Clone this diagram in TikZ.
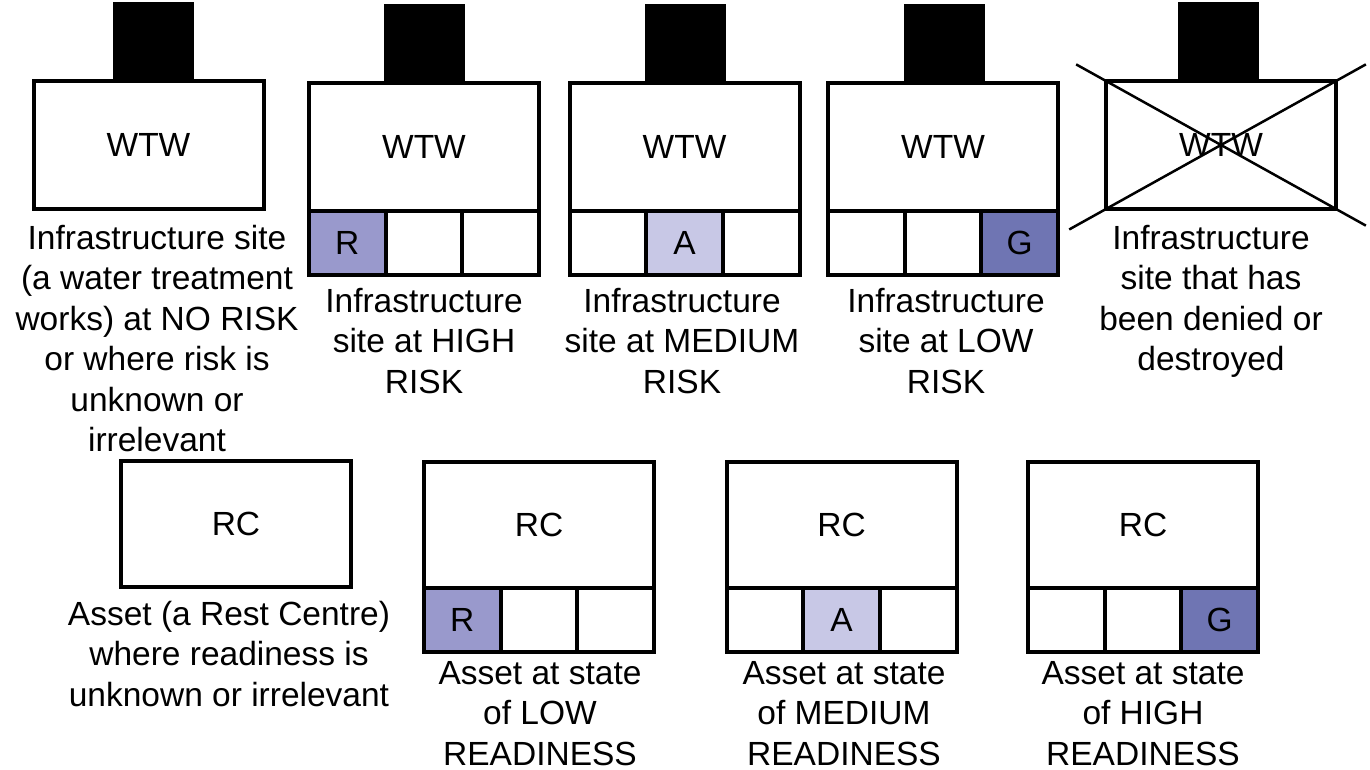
\documentclass[tikz,border=0pt]{standalone}
\usepackage{fontspec}
\setmainfont{Liberation Sans}
\usepackage{tikz}
\usetikzlibrary{calc}
\usetikzlibrary{positioning}
\definecolor{cellR}{HTML}{9999CC}
\definecolor{cellA}{HTML}{C8C8E6}
\definecolor{cellG}{HTML}{6F75B3}
\newcommand*{\lbl}{\fontsize{33.5}{40.5}\selectfont}
\tikzset{
    site/.style = {draw,line width=4pt,outer sep=0,inner sep=0,minimum width=230pt,minimum height=128pt,font=\lbl},
    tab/.style = {fill=black,outer sep=0,inner sep=0,minimum width=81pt,minimum height=79pt,anchor=south},
    cell/.style = {draw,line width=4pt,outer sep=0,inner sep=0,minimum width=76.67pt,minimum height=64pt,font=\lbl},
    caption/.style = {align=center,anchor=north,inner sep=0,font=\lbl},
    cross/.style = {line width=2.5pt}
}

\begin{document}
\begin{tikzpicture}[x=1pt,y=-1pt]
        \useasboundingbox (0,0) rectangle (1370,770);
        % Sites
        \path (148.5,145) node[site] (w0) {WTW}
            to (424,147) node[site] (w1) {WTW}
            to (684.5,147) node[site] (w2) {WTW}
            to (943,147) node[site] (w3) {WTW}
            to (1221,145) node[site] (w4) {WTW}
        ;
        % Assets
        \path (236,524) node[site,minimum height=126pt] (r0) {RC}
            to (539,524.5) node[site,minimum height=126pt] (r1) {RC}
            to (841.5,524.5) node[site,minimum height=126pt] (r2) {RC}
            to (1143,524.5) node[site,minimum height=126pt] (r3) {RC}
        ;
        % Tabs
        \foreach \s/\dx in {w0/4.5,w1/0.5,w2/1,w3/1.5,w4/-3}
            \node[tab,xshift=\dx pt] at (\s.north) {};
        % Status cells
        \node[cell,fill=cellR,anchor=north west] (w1a) at (w1.south west) {R};
        \node[cell,right=0pt of w1a] (w1b) {};
        \node[cell,right=0pt of w1b] (w1c) {};
        \node[cell,anchor=north west] (w2a) at (w2.south west) {};
        \node[cell,fill=cellA,right=0pt of w2a] (w2b) {A};
        \node[cell,right=0pt of w2b] (w2c) {};
        \node[cell,anchor=north west] (w3a) at (w3.south west) {};
        \node[cell,right=0pt of w3a] (w3b) {};
        \node[cell,fill=cellG,right=0pt of w3b] (w3c) {G};
        \node[cell,fill=cellR,anchor=north west] (r1a) at (r1.south west) {R};
        \node[cell,right=0pt of r1a] (r1b) {};
        \node[cell,right=0pt of r1b] (r1c) {};
        \node[cell,anchor=north west] (r2a) at (r2.south west) {};
        \node[cell,fill=cellA,right=0pt of r2a] (r2b) {A};
        \node[cell,right=0pt of r2b] (r2c) {};
        \node[cell,anchor=north west] (r3a) at (r3.south west) {};
        \node[cell,right=0pt of r3a] (r3b) {};
        \node[cell,fill=cellG,right=0pt of r3b] (r3c) {G};
        % Denied site
        \draw[cross] ($(w4.north west)!-0.13!(w4.south east)$) -- ($(w4.south east)!-0.13!(w4.north west)$);
        \draw[cross] ($(w4.north east)!-0.13!(w4.south west)$) -- ($(w4.south west)!-0.16!(w4.north east)$);
        % Captions
        \node[caption] (cw0) at (157,225) {Infrastructure site\\(a water treatment\\works) at NO RISK\\or where risk is\\unknown or\\irrelevant};
        \node[caption] (cw1) at (424,288) {Infrastructure\\site at HIGH\\RISK};
        \node[caption] (cw2) at (682,288) {Infrastructure\\site at MEDIUM\\RISK};
        \node[caption] (cw3) at (946,288) {Infrastructure\\site at LOW\\RISK};
        \node[caption] (cw4) at (1211,225) {Infrastructure\\site that has\\been denied or\\destroyed};
        \node[caption] (cr0) at (229,601) {Asset (a Rest Centre)\\where readiness is\\unknown or irrelevant};
        \node[caption] (cr1) at (540,661) {Asset at state\\of LOW\\READINESS};
        \node[caption] (cr2) at (844,661) {Asset at state\\of MEDIUM\\READINESS};
        \node[caption] (cr3) at (1143,661) {Asset at state\\of HIGH\\READINESS};
    \end{tikzpicture}
\end{document}
